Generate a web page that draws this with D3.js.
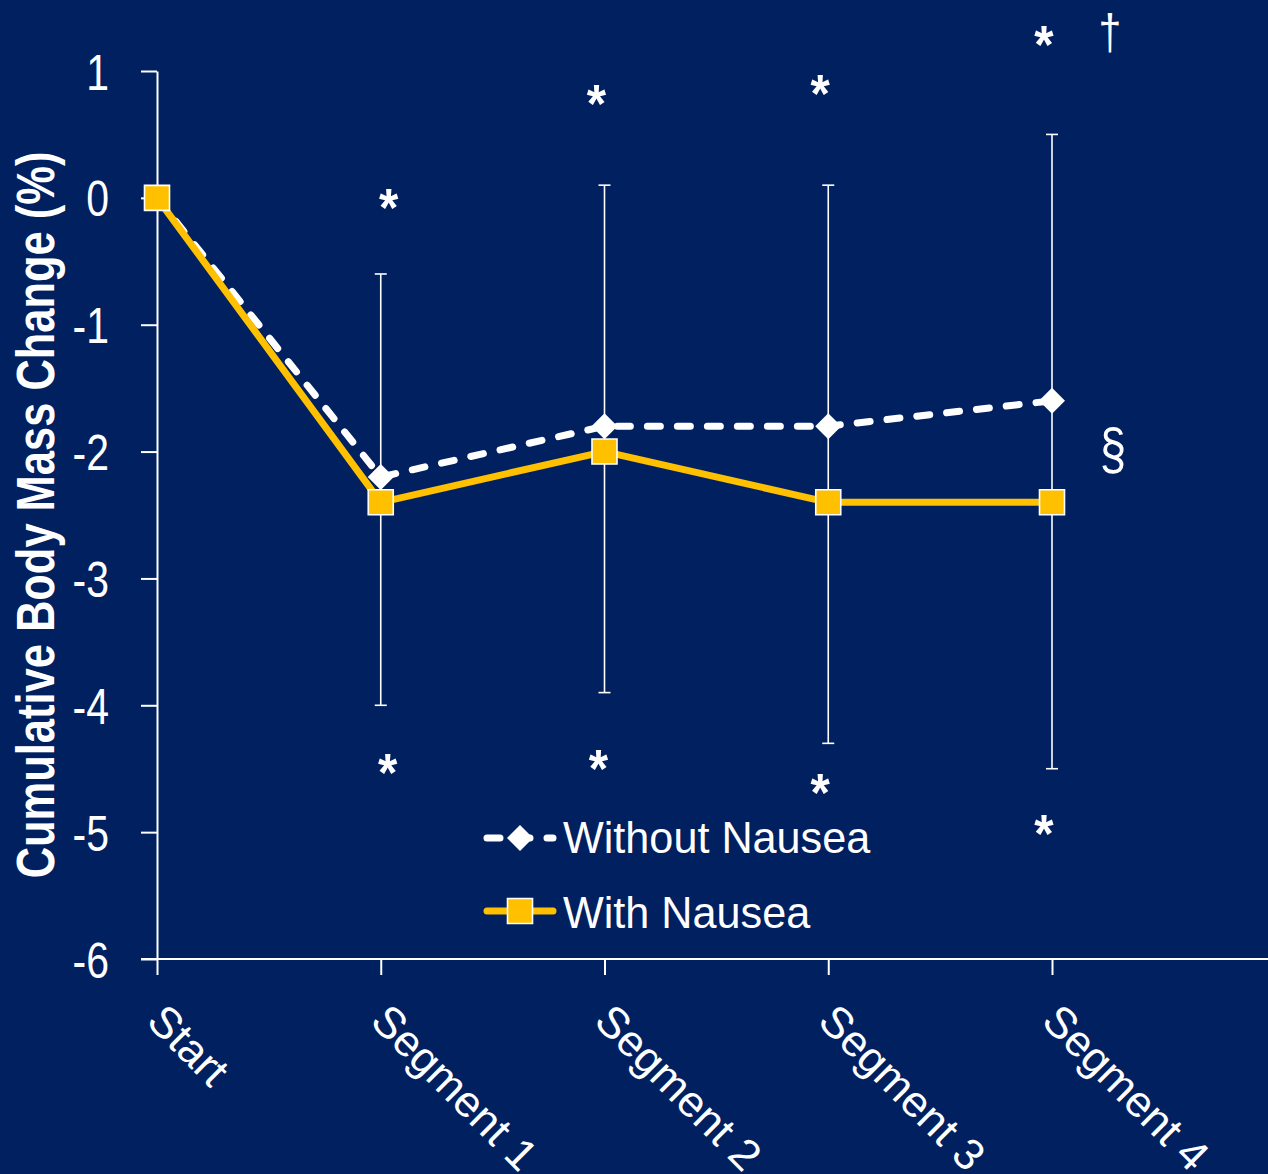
<!DOCTYPE html>
<html>
<head>
<meta charset="utf-8">
<script src="https://cdn.jsdelivr.net/npm/d3@7"></script>
<style>
  html, body { margin: 0; padding: 0; background: #002060; }
  svg { display: block; }
</style>
</head>
<body>
<svg id="chart" width="1268" height="1174"></svg>
<script>
// Cumulative body mass change per segment, with and without nausea
const categories = ["Start", "Segment 1", "Segment 2", "Segment 3", "Segment 4"];
const withoutNausea = [0, -2.2, -1.8, -1.8, -1.6];
const withNausea = [0, -2.4, -2.0, -2.4, -2.4];
// SD bars: upward from the "without" mean, downward from the "with" mean
const sdWithout = [null, 1.6, 1.9, 1.9, 2.1];
const sdWith = [null, 1.6, 1.9, 1.9, 2.1];
const yTicks = [1, 0, -1, -2, -3, -4, -5, -6];
const seriesNames = ["Without Nausea", "With Nausea"];
const yTitle = "Cumulative Body Mass Change (%)";

// Significance marks (category, level in % units)
const upperMarkCats = ["Segment 1", "Segment 2", "Segment 3", "Segment 4"];
const upperMarkLevels = [-0.02, 0.80, 0.88, 1.27];
const lowerMarkCats = ["Segment 1", "Segment 2", "Segment 3", "Segment 4"];
const lowerMarkLevels = [-4.47, -4.44, -4.63, -4.95];
const daggerMark = { cat: "Segment 4", level: 1.28 };
const sectionMark = { cat: "Segment 4", level: -2.02 };

const NAVY = "#002060";
const GOLD = "#FFC000";
const WHITE = "#FFFFFF";
const FONT = "'Liberation Sans', Arial, sans-serif";
const NARROW = 0.82;

const svg = d3.select("#chart");
svg.append("rect").attr("width", 1268).attr("height", 1174).attr("fill", NAVY);

const x = d3.scalePoint().domain(categories).range([157, 1052]);
const y = d3.scaleLinear().domain([-6, 1]).range([959, 71]);

// ---- axes ----
const yAxis = svg.append("g")
  .attr("transform", `translate(${x("Start")},0)`)
  .call(d3.axisLeft(y).tickValues(yTicks).tickSize(16).tickSizeOuter(0).tickFormat(d => String(d)));
yAxis.select(".domain").attr("stroke", WHITE).attr("stroke-width", 2);
yAxis.selectAll(".tick line").attr("stroke", WHITE).attr("stroke-width", 2);
yAxis.selectAll(".tick text").remove();

// narrow tick labels
yAxis.selectAll(".tick").append("text")
  .attr("fill", WHITE)
  .attr("font-family", FONT)
  .attr("font-size", 50)
  .attr("text-anchor", "end")
  .attr("transform", `translate(-48,18) scale(${NARROW},1)`)
  .text(d => String(d));

const xAxis = svg.append("g")
  .attr("transform", `translate(0,${y(-6)})`)
  .call(d3.axisBottom(x).tickSize(16).tickSizeOuter(0).tickFormat(""));
xAxis.select(".domain").remove();
xAxis.selectAll(".tick line").attr("stroke", WHITE).attr("stroke-width", 2);
xAxis.append("line")
  .attr("x1", x("Start") - 16).attr("x2", 1268)
  .attr("y1", 0).attr("y2", 0)
  .attr("stroke", WHITE).attr("stroke-width", 2);

// rotated category labels
svg.append("g").selectAll("text")
  .data(categories)
  .join("text")
  .attr("fill", WHITE)
  .attr("font-family", FONT)
  .attr("font-size", 44)
  .attr("transform", d => `translate(${x(d) - 12},1023) rotate(45)`)
  .text(d => d);

// y title
svg.append("text")
  .attr("fill", WHITE)
  .attr("font-family", FONT)
  .attr("font-weight", "bold")
  .attr("font-size", 53)
  .attr("text-anchor", "middle")
  .attr("transform", `translate(54,${(y(1) + y(-6)) / 2}) rotate(-90) scale(${NARROW},1)`)
  .text(yTitle);

// ---- error bars ----
const bars = categories.map((c, i) => ({ c, i })).filter(d => sdWithout[d.i] != null);
const eb = svg.append("g").attr("stroke", WHITE).attr("stroke-width", 1.6);
eb.selectAll("line.v").data(bars).join("line").attr("class", "v")
  .attr("x1", d => x(d.c)).attr("x2", d => x(d.c))
  .attr("y1", d => y(withoutNausea[d.i] + sdWithout[d.i]))
  .attr("y2", d => y(withNausea[d.i] - sdWith[d.i]));
eb.selectAll("line.t").data(bars).join("line").attr("class", "t")
  .attr("x1", d => x(d.c) - 6).attr("x2", d => x(d.c) + 6)
  .attr("y1", d => y(withoutNausea[d.i] + sdWithout[d.i]))
  .attr("y2", d => y(withoutNausea[d.i] + sdWithout[d.i]));
eb.selectAll("line.b").data(bars).join("line").attr("class", "b")
  .attr("x1", d => x(d.c) - 6).attr("x2", d => x(d.c) + 6)
  .attr("y1", d => y(withNausea[d.i] - sdWith[d.i]))
  .attr("y2", d => y(withNausea[d.i] - sdWith[d.i]));

// ---- series ----
const line = d3.line().x((d, i) => x(categories[i])).y(d => y(d));
const diamond = d3.symbol().type(d3.symbolSquare).size(13 * 13 * 2);
const square = d3.symbol().type(d3.symbolSquare).size(25 * 25);

svg.append("path")
  .datum(withoutNausea)
  .attr("d", line)
  .attr("fill", "none")
  .attr("stroke", WHITE)
  .attr("stroke-width", 7)
  .attr("stroke-linecap", "round")
  .attr("stroke-dasharray", "13 17");

svg.append("g").selectAll("path")
  .data(withoutNausea)
  .join("path")
  .attr("d", diamond)
  .attr("fill", WHITE)
  .attr("transform", (d, i) => `translate(${x(categories[i])},${y(d)}) rotate(45)`);

svg.append("path")
  .datum(withNausea)
  .attr("d", line)
  .attr("fill", "none")
  .attr("stroke", GOLD)
  .attr("stroke-width", 7)
  .attr("stroke-linejoin", "round");

svg.append("g").selectAll("path")
  .data(withNausea)
  .join("path")
  .attr("d", square)
  .attr("fill", GOLD)
  .attr("stroke", WHITE)
  .attr("stroke-width", 1.6)
  .attr("transform", (d, i) => `translate(${x(categories[i])},${y(d)})`);

// ---- significance marks ----
const marks = svg.append("g").attr("fill", WHITE).attr("font-family", FONT);
const upperDx = [8, -8, -8, -8];
const lowerDx = [7, -6, -8, -8];
marks.selectAll("text.up")
  .data(upperMarkCats.map((c, i) => ({ c, v: upperMarkLevels[i], dx: upperDx[i] })))
  .join("text").attr("class", "up")
  .attr("font-weight", "bold").attr("font-size", 54).attr("text-anchor", "middle")
  .attr("transform", d => `translate(${x(d.c) + d.dx},${y(d.v) + 26}) scale(0.92,1)`)
  .text("*");
marks.selectAll("text.low")
  .data(lowerMarkCats.map((c, i) => ({ c, v: lowerMarkLevels[i], dx: lowerDx[i] })))
  .join("text").attr("class", "low")
  .attr("font-weight", "bold").attr("font-size", 54).attr("text-anchor", "middle")
  .attr("transform", d => `translate(${x(d.c) + d.dx},${y(d.v) + 26}) scale(0.92,1)`)
  .text("*");
marks.append("text")
  .attr("font-size", 50).attr("text-anchor", "middle")
  .attr("transform", `translate(${x(daggerMark.cat) + 58},${y(daggerMark.level) + 14}) scale(${NARROW},1)`)
  .text("\u2020");
marks.append("text")
  .attr("font-size", 58).attr("text-anchor", "middle")
  .attr("transform", `translate(${x(sectionMark.cat) + 61},${y(sectionMark.level) + 15}) scale(${NARROW},1)`)
  .text("\u00A7");

// ---- legend ----
const legend = svg.append("g").attr("transform", "translate(483,838)");
const rowGap = 73;
// row 1: dashed white line with diamond
legend.append("line")
  .attr("x1", 4).attr("x2", 70).attr("y1", 0).attr("y2", 0)
  .attr("stroke", WHITE).attr("stroke-width", 7)
  .attr("stroke-linecap", "round").attr("stroke-dasharray", "13 17");
legend.append("path").attr("d", diamond).attr("fill", WHITE)
  .attr("transform", "translate(37,0) rotate(45)");
// row 2: gold line with square
legend.append("line")
  .attr("x1", 4).attr("x2", 70).attr("y1", rowGap).attr("y2", rowGap)
  .attr("stroke", GOLD).attr("stroke-width", 7).attr("stroke-linecap", "round");
legend.append("path").attr("d", square).attr("fill", GOLD)
  .attr("stroke", WHITE).attr("stroke-width", 1.6)
  .attr("transform", `translate(37,${rowGap})`);
legend.selectAll("text.lbl")
  .data(seriesNames)
  .join("text").attr("class", "lbl")
  .attr("fill", WHITE).attr("font-family", FONT).attr("font-size", 45)
  .attr("transform", (d, i) => `translate(80,${15 + i * (rowGap + 2)}) scale(0.96,1)`)
  .text(d => d);
</script>
</body>
</html>
